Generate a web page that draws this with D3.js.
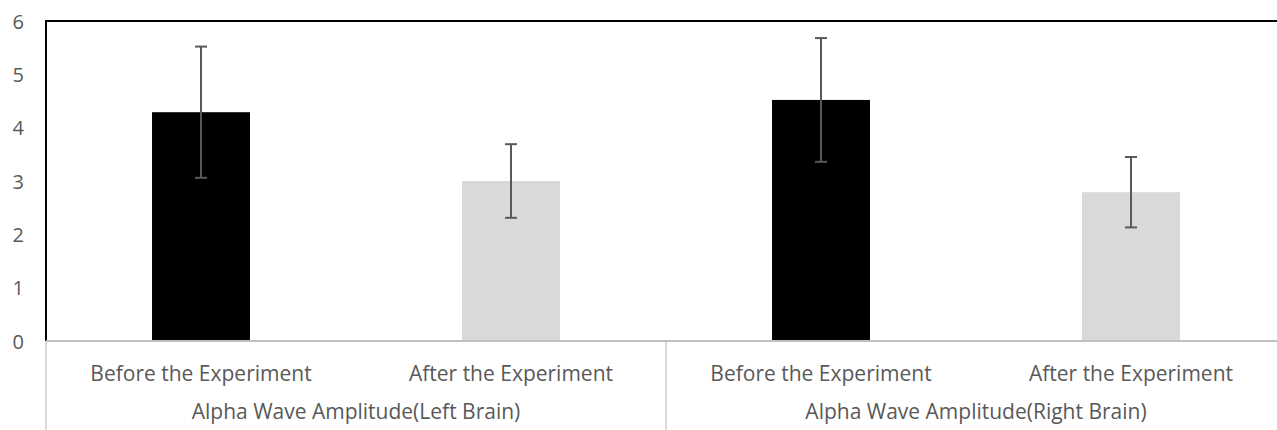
<!DOCTYPE html>
<html>
<head>
<meta charset="utf-8">
<script src="https://cdn.jsdelivr.net/npm/d3@7"></script>
<style>
  html, body { margin: 0; padding: 0; background: #fff; }
  svg { display: block; }
  text { font-family: "Open Sans", Lato, sans-serif; fill: #595959; }
</style>
</head>
<body>
<svg id="chart" width="1277" height="430"></svg>
<script>
const groups = ["Alpha Wave Amplitude(Left Brain)", "Alpha Wave Amplitude(Right Brain)"];
const conditions = ["Before the Experiment", "After the Experiment"];
const values = [4.29, 3.0, 4.52, 2.79];
const errors = [1.23, 0.69, 1.16, 0.66];
const barColors = ["#000000", "#d9d9d9", "#000000", "#d9d9d9"];
const yTicks = [0, 1, 2, 3, 4, 5, 6];

(function () {
const svg = d3.select("#chart");
const mLeft = 46, mRight = 1286, mTop = 21, mBottom = 341;
const fontFam = "'Open Sans', Lato, sans-serif";

const items = [];
groups.forEach((g, gi) => conditions.forEach((c, ci) => {
  const i = gi * conditions.length + ci;
  items.push({ key: g + "|" + c, group: g, cond: c, value: values[i], err: errors[i], color: barColors[i] });
}));

const x = d3.scaleBand().domain(items.map(d => d.key)).range([mLeft, mRight]).paddingInner(0.684).paddingOuter(0.342);
const xOuter = d3.scaleBand().domain(items.map(d => d.key)).range([mLeft, mRight]);
const y = d3.scaleLinear().domain([0, 6]).range([mBottom, mTop]);

svg.append("g").selectAll("rect").data(items).join("rect")
  .attr("x", d => x(d.key))
  .attr("y", d => y(d.value))
  .attr("width", x.bandwidth())
  .attr("height", d => y(0) - y(d.value))
  .attr("fill", d => d.color);

const eb = svg.append("g").attr("stroke", "#595959").attr("stroke-width", 2);
items.forEach(d => {
  const cx = x(d.key) + x.bandwidth() / 2;
  eb.append("line").attr("x1", cx).attr("x2", cx).attr("y1", y(d.value + d.err)).attr("y2", y(d.value - d.err));
  eb.append("line").attr("x1", cx - 6).attr("x2", cx + 6).attr("y1", y(d.value + d.err)).attr("y2", y(d.value + d.err));
  eb.append("line").attr("x1", cx - 6).attr("x2", cx + 6).attr("y1", y(d.value - d.err)).attr("y2", y(d.value - d.err));
});

const yAxis = d3.axisLeft(y).tickValues(yTicks).tickSize(0).tickPadding(0).tickFormat(d3.format("d"));
const yg = svg.append("g").attr("transform", "translate(24,0)").call(yAxis);
yg.select(".domain").remove();
yg.selectAll("text").style("font-size", "20px").attr("fill", "#595959").attr("dy", "0.35em")
  .style("font-family", fontFam);

svg.append("line").attr("x1", mLeft - 1).attr("x2", 1277).attr("y1", mTop).attr("y2", mTop).attr("stroke", "#000").attr("stroke-width", 2);
svg.append("line").attr("x1", mLeft).attr("x2", mLeft).attr("y1", mTop).attr("y2", mBottom).attr("stroke", "#000").attr("stroke-width", 2);

const sepX = [mLeft, xOuter(items[2].key), mRight];
svg.append("g").selectAll("line").data(sepX).join("line")
  .attr("x1", d => d).attr("x2", d => d).attr("y1", mBottom).attr("y2", 430)
  .attr("stroke", "#d9d9d9").attr("stroke-width", 2);

svg.append("line").attr("x1", mLeft).attr("x2", 1277).attr("y1", mBottom).attr("y2", mBottom)
  .attr("stroke", "#bfbfbf").attr("stroke-width", 2);

svg.append("g").selectAll("text").data(items).join("text")
  .attr("x", d => xOuter(d.key) + xOuter.bandwidth() / 2)
  .attr("y", 381)
  .attr("text-anchor", "middle")
  .style("font-size", "21px")
  .style("font-family", fontFam)
  .text(d => d.cond);

svg.append("g").selectAll("text").data(groups).join("text")
  .attr("x", (g, gi) => xOuter(items[gi * 2].key) + xOuter.bandwidth())
  .attr("y", 419)
  .attr("text-anchor", "middle")
  .style("font-size", "21px")
  .style("font-family", fontFam)
  .text(d => d);
})();
</script>
</body>
</html>
